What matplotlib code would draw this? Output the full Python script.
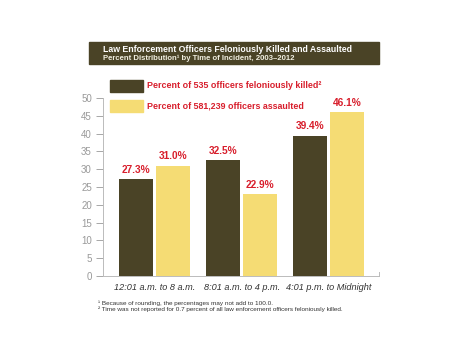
import matplotlib.pyplot as plt
import matplotlib.patches as mpatches
import numpy as np

plt.rcParams['font.family'] = ['Liberation Sans', 'DejaVu Sans']

# data
categories = ['12:01 a.m. to 8 a.m.', '8:01 a.m. to 4 p.m.', '4:01 p.m. to Midnight']
killed = [27.3, 32.5, 39.4]
assaulted = [31.0, 22.9, 46.1]
legend_labels = ['Percent of 535 officers feloniously killed\u00b2',
                 'Percent of 581,239 officers assaulted']
title_1 = 'Law Enforcement Officers Feloniously Killed and Assaulted'
title_2 = 'Percent Distribution\u00b9 by Time of Incident, 2003\u20132012'
notes = ['\u00b9 Because of rounding, the percentages may not add to 100.0.',
         '\u00b2 Time was not reported for 0.7 percent of all law enforcement officers feloniously killed.']

dark = '#4a4326'
yellow = '#f5dc74'
red = '#d81e2c'

W, H = 474, 355
fig = plt.figure(figsize=(W / 100, H / 100), dpi=100)

def fx(px):
    return px / W

def fy(py):
    return 1 - py / H

ax = fig.add_axes([fx(103), fy(276), fx(379) - fx(103), fy(98) - fy(276)])

x = np.arange(len(categories))
w = 0.39
off = 0.213
b1 = ax.bar(x - off, killed, w, color=dark)
b2 = ax.bar(x + off, assaulted, w, color=yellow)

for bars, vals in ((b1, killed), (b2, assaulted)):
    for r, v in zip(bars, vals):
        ax.text(r.get_x() + r.get_width() / 2, v + 1.2, f'{v:.1f}%', ha='center', va='bottom',
                color=red, fontsize=7.3, fontweight='bold')

ax.set_xlim(-0.592, 2.575)
ax.set_ylim(0, 50)
ax.set_yticks(range(0, 51, 5))
ax.set_xticks(x)
ax.set_xticklabels(categories, fontsize=6.6, style='italic', color='#333333')
ax.tick_params(axis='x', length=0, pad=5)
ax.tick_params(axis='y', colors='#999999', labelsize=7, length=5, width=0.6, pad=3)
for s in ['top', 'right']:
    ax.spines[s].set_visible(False)
for s in ['left', 'bottom']:
    ax.spines[s].set_color('#bbbbbb')
    ax.spines[s].set_linewidth(0.7)
ax.plot([1, 1], [0, 0.02], transform=ax.transAxes, color='#bbbbbb', lw=0.7, clip_on=False)

# title band
fig.patches.append(mpatches.Rectangle((fx(89), fy(64)), fx(379) - fx(89), fy(42) - fy(64),
                                      transform=fig.transFigure, color=dark, zorder=0))
fig.text(fx(103), fy(50), title_1, color='white', fontsize=6.3, fontweight='bold', va='center')
fig.text(fx(103), fy(58), title_2, color='#f0eee0', fontsize=5.6, fontweight='bold', va='center')

# legend
for i, (lab, col) in enumerate(zip(legend_labels, [dark, yellow])):
    y0 = [92, 112][i]
    fig.patches.append(mpatches.Rectangle((fx(110), fy(y0)), fx(143) - fx(110), fy(80) - fy(92),
                                          transform=fig.transFigure, color=col, zorder=3))
    fig.text(fx(147), fy([86, 106][i]), lab, color=red, fontsize=6.4, fontweight='bold', va='center')

# footnotes
fig.text(fx(98), fy(303), notes[0], fontsize=4.6, color='#333333', va='center')
fig.text(fx(98), fy(309), notes[1], fontsize=4.6, color='#333333', va='center')

fig.savefig('out.png', dpi=100)
